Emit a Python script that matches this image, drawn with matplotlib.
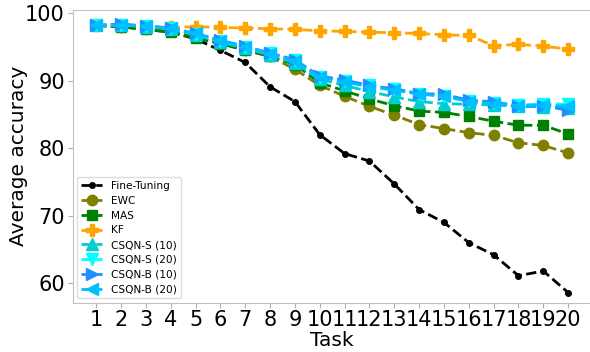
import matplotlib
matplotlib.use("Agg")
import matplotlib.pyplot as plt

tasks = list(range(1, 21))

fine_tuning = [98.2, 98.0, 97.6, 97.2, 96.2, 94.5, 92.7, 89.1, 86.9, 82.0,
               79.2, 78.1, 74.7, 70.9, 69.0, 66.0, 64.2, 61.1, 61.8, 58.6]
ewc = [98.2, 98.0, 97.6, 97.3, 96.5, 95.5, 94.6, 93.6, 91.7, 89.3,
       87.7, 86.2, 84.9, 83.5, 82.9, 82.3, 81.9, 80.8, 80.4, 79.3]
mas = [98.2, 98.0, 97.6, 97.2, 96.3, 95.5, 94.5, 93.6, 92.4, 89.7,
       88.5, 87.3, 86.3, 85.5, 85.3, 84.7, 84.0, 83.4, 83.4, 82.1]
kf = [98.2, 98.3, 98.0, 97.9, 98.0, 97.9, 97.8, 97.7, 97.6, 97.4,
      97.3, 97.2, 97.1, 97.0, 96.8, 96.7, 95.2, 95.4, 95.1, 94.7]
csqn_s10 = [98.2, 98.3, 98.0, 97.7, 96.8, 95.7, 94.8, 93.8, 92.6, 90.2,
            89.3, 88.4, 87.6, 86.9, 86.6, 86.5, 86.4, 86.2, 86.1, 86.0]
csqn_s20 = [98.2, 98.3, 98.1, 97.8, 96.9, 95.9, 95.0, 94.1, 93.0, 90.6,
            90.0, 89.3, 88.7, 88.1, 87.8, 87.0, 86.7, 86.4, 86.6, 86.5]
csqn_b10 = [98.2, 98.4, 98.1, 97.8, 97.0, 96.0, 95.1, 94.1, 93.1, 90.7,
            90.1, 89.3, 88.8, 88.1, 88.0, 87.1, 86.9, 86.2, 86.3, 85.6]
csqn_b20 = [98.2, 98.3, 98.1, 97.8, 97.0, 95.9, 95.0, 94.0, 92.9, 90.5,
            89.8, 89.1, 88.6, 88.0, 87.7, 86.9, 86.6, 86.3, 86.4, 86.2]

series = [
    ("Fine-Tuning", fine_tuning, "black", "o", 4),
    ("EWC", ewc, "olive", "o", 7.5),
    ("MAS", mas, "green", "s", 7.5),
    ("KF", kf, "orange", "P", 9),
    ("CSQN-S (10)", csqn_s10, "darkturquoise", "^", 8.5),
    ("CSQN-S (20)", csqn_s20, "cyan", "v", 8.5),
    ("CSQN-B (10)", csqn_b10, "dodgerblue", ">", 8.5),
    ("CSQN-B (20)", csqn_b20, "deepskyblue", "<", 8.5),
]

fig = plt.figure(figsize=(5.9, 3.52), dpi=100)
ax = fig.add_axes([0.123, 0.14, 0.88, 0.832])
for name, vals, col, mk, ms in series:
    ax.plot(tasks, vals, linestyle="--", color=col, marker=mk, markersize=ms,
            linewidth=2, label=name)

ax.set_xlim(0.05, 20.95)
ax.set_ylim(57.1, 100.5)
ax.set_xticks(tasks)
ax.set_xticklabels([str(t) for t in tasks])
ax.set_yticks([60, 70, 80, 90, 100])
ax.tick_params(labelsize=15, color="#b0b0b0", length=3.5, width=0.8, pad=2)
for s in ax.spines.values():
    s.set_color("#c0c0c0")
ax.set_xlabel("Task", fontsize=14.5, labelpad=0.5)
ax.set_ylabel("Average accuracy", fontsize=14.5, labelpad=-2)
leg = ax.legend(loc="lower left", fontsize=7.6, framealpha=1, borderaxespad=0.4,
                labelspacing=0.45)
leg.get_frame().set_edgecolor("#dddddd")
fig.savefig("out.png", dpi=100)
